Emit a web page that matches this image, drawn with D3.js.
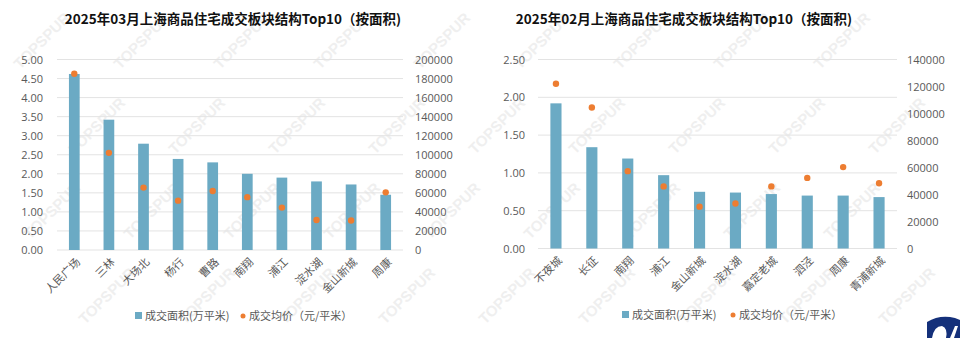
<!DOCTYPE html>
<html><head><meta charset="utf-8">
<script src="https://cdn.jsdelivr.net/npm/d3@7"></script>
<style>
body{margin:0;background:#fff;}
svg{display:block;font-family:"Microsoft YaHei","Noto Sans CJK SC","Open Sans",sans-serif;}
</style></head>
<body><svg id="c" width="960" height="338"></svg>
<script>
// ---- data ----
const titleL = "2025年03月上海商品住宅成交板块结构Top10（按面积)";
const catsL = ["人民广场","三林","大场北","杨行","曹路","南翔","浦江","淀水湖","金山新城","周康"];
const areaL = [4.62,3.42,2.79,2.39,2.30,2.00,1.90,1.80,1.72,1.45];
const priceL = [185000,102000,65500,51800,62000,55500,44500,31500,31000,60500];
const leftTicksL = [0,0.5,1,1.5,2,2.5,3,3.5,4,4.5,5];
const rightTicksL = [0,20000,40000,60000,80000,100000,120000,140000,160000,180000,200000];

const titleR = "2025年02月上海商品住宅成交板块结构Top10（按面积)";
const catsR = ["不夜城","长征","南翔","浦江","金山新城","淀水湖","嘉定老城","泗泾","周康","青浦新城"];
const areaR = [1.92,1.34,1.19,0.97,0.75,0.74,0.72,0.70,0.70,0.68];
const priceR = [122000,104500,57300,46000,31000,33300,46000,52300,60300,48300];
const leftTicksR = [0,0.5,1,1.5,2,2.5];
const rightTicksR = [0,20000,40000,60000,80000,100000,120000,140000];

const legendLabels = ["成交面积(万平米)","成交均价（元/平米）"];
const watermark = "TOPSPUR";

const barColor = "#6BAAC4", dotColor = "#ED7D31", textColor = "#595959";
const svg = d3.select("#c");

// faint watermarks (kept fully inside the canvas)
const wm = svg.append("g").attr("fill","#efefef").attr("font-size",15).attr("font-weight","bold")
  .attr("font-family","Liberation Sans, sans-serif");
for (let i=-3;i<12;i++){ for(let j=0;j<5;j++){
  const x = i*100 + j*55 + 20, y = 70 + j*85;
  const t = wm.append("text").attr("transform",`translate(${x},${y}) rotate(-45)`).text(watermark);
  const b = t.node().getBoundingClientRect();
  if (b.left < 1 || b.top < 1 || b.right > 959 || b.bottom > 337) t.remove();
}}

function chart(o){
  const g = svg.append("g");
  const x = d3.scaleBand().domain(o.cats).range([o.x0,o.x1]).paddingInner(0.69).paddingOuter(0.345);
  const y = d3.scaleLinear().domain([0,o.lmax]).range([o.y0,o.y1]);
  const y2 = d3.scaleLinear().domain([0,o.rmax]).range([o.y0,o.y1]);
  g.append("g").selectAll("line").data(o.lt).join("line")
    .attr("x1",o.x0).attr("x2",o.x1).attr("y1",d=>y(d)).attr("y2",d=>y(d))
    .attr("stroke","#e3e3e3").attr("stroke-width",1);
  const la = g.append("g").attr("transform",`translate(${o.lx},0)`)
    .call(d3.axisLeft(y).tickValues(o.lt).tickFormat(d3.format(".2f")).tickSize(0));
  la.select(".domain").remove();
  la.selectAll("text").attr("fill",textColor).attr("font-size",11).attr("x",0)
    .attr("font-family","Segoe UI, Open Sans, Noto Sans, sans-serif");
  const ra = g.append("g").attr("transform",`translate(${o.rx},0)`)
    .call(d3.axisRight(y2).tickValues(o.rt).tickFormat(d3.format("d")).tickSize(0));
  ra.select(".domain").remove();
  ra.selectAll("text").attr("fill",textColor).attr("font-size",11).attr("x",0)
    .attr("font-family","Segoe UI, Open Sans, Noto Sans, sans-serif");
  g.append("g").selectAll("rect").data(o.area).join("rect")
    .attr("x",(d,i)=>x(o.cats[i])).attr("width",x.bandwidth())
    .attr("y",d=>y(d)).attr("height",d=>y(0)-y(d)).attr("fill",barColor);
  g.append("g").selectAll("circle").data(o.price).join("circle")
    .attr("cx",(d,i)=>x(o.cats[i])+x.bandwidth()/2).attr("cy",d=>y2(d)).attr("r",3.2)
    .attr("fill",dotColor);
  g.append("g").selectAll("text").data(o.cats).join("text")
    .attr("transform",d=>`translate(${x(d)+x.bandwidth()/2+4},${o.y0+10}) rotate(-45)`)
    .attr("text-anchor","end").attr("dy","0.35em").attr("font-size",11).attr("fill",textColor).text(d=>d);
  g.append("text").attr("x",o.tx).attr("y",24).attr("text-anchor","middle")
    .attr("font-size",13.5).attr("font-weight","bold").attr("fill","#111").text(o.title);
  const lg = g.append("g").attr("font-size",11).attr("fill",textColor);
  lg.append("rect").attr("x",o.lgx).attr("y",o.lgy-4).attr("width",7).attr("height",7).attr("fill",barColor);
  lg.append("text").attr("x",o.lgx+10).attr("y",o.lgy).attr("dy","0.35em").text(legendLabels[0]);
  lg.append("circle").attr("cx",o.lgx2).attr("cy",o.lgy).attr("r",2.5).attr("fill",dotColor);
  lg.append("text").attr("x",o.lgx2+6).attr("y",o.lgy).attr("dy","0.35em").text(legendLabels[1]);
}

chart({cats:catsL, area:areaL, price:priceL, lt:leftTicksL, rt:rightTicksL, lmax:5, rmax:200000,
  x0:57, x1:403, y0:250, y1:59.5, lx:43, rx:415, title:titleL, tx:233, lgx:135, lgx2:243, lgy:316});
chart({cats:catsR, area:areaR, price:priceR, lt:leftTicksR, rt:rightTicksR, lmax:2.5, rmax:140000,
  x0:538, x1:897, y0:248.5, y1:59.5, lx:525, rx:907, title:titleR, tx:684, lgx:622, lgx2:733, lgy:315});

// logo
const logo = svg.append("g").attr("fill","#14307a");
logo.append("path").attr("d","M927,338 L927,322 Q940,314 955,318 L960,320 L960,338 Z");
logo.append("path").attr("d","M932,338 Q934,326 942,326 Q948,328 946,338 Z").attr("fill","#fff");
logo.append("path").attr("d","M950,338 L955,326 L958,326 L954,338 Z").attr("fill","#fff");
</script></body></html>
